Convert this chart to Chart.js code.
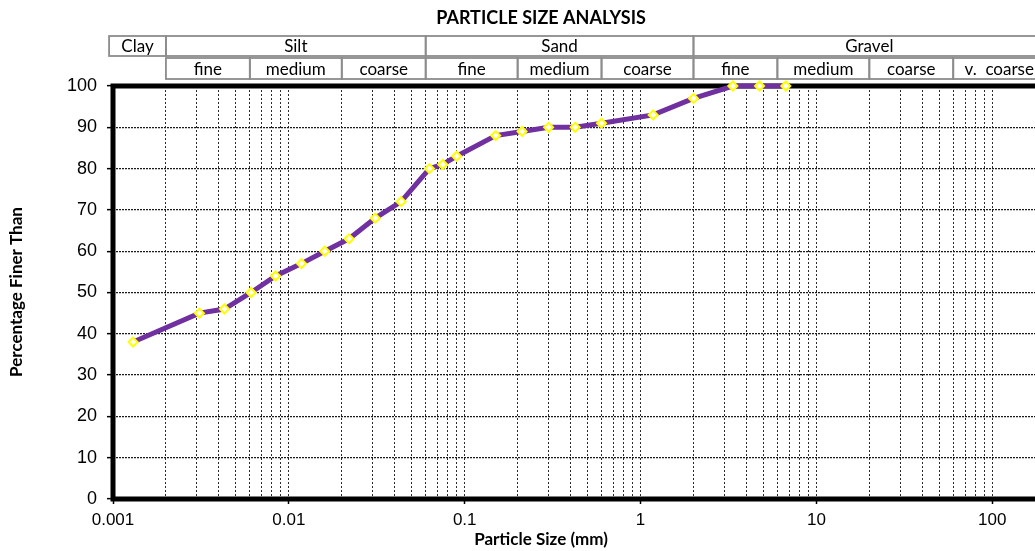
<!DOCTYPE html>
<html>
<head>
<meta charset="utf-8">
<title>Particle Size Analysis</title>
<script src="https://cdn.jsdelivr.net/npm/chart.js@4/dist/chart.umd.min.js"></script>
<style>
  html, body { margin: 0; padding: 0; background: #fff; overflow: hidden; }
  canvas { display: block; }
</style>
</head>
<body>
<canvas id="psd" width="1193" height="551"></canvas>
<script>
// grading results: hydrometer below 0.063 mm, sieves above
const sizes = [0.0013, 0.0031, 0.0043, 0.0061, 0.0084, 0.0118, 0.016, 0.022, 0.031, 0.0435,
               0.063, 0.075, 0.09, 0.15, 0.212, 0.3, 0.425, 0.6, 1.18, 2.0, 3.35, 4.75, 6.7];
const percentFiner = [38, 45, 46, 50, 54, 57, 60, 63, 68, 72,
                      80, 81, 83, 88, 89, 90, 90, 91, 93, 97, 100, 100, 100];

const xMajor = [0.001, 0.01, 0.1, 1, 10, 100, 1000];
const xTickLabels = ["0.001", "0.01", "0.1", "1", "10", "100", "1000"];
const yTicks = [0, 10, 20, 30, 40, 50, 60, 70, 80, 90, 100];

// soil classification bands (mm)
const mainClasses = ["Clay", "Silt", "Sand", "Gravel"];
const mainBounds = [0.00095, 0.002, 0.06, 2, 200];
const subClasses = ["fine", "medium", "coarse", "fine", "medium", "coarse", "fine", "medium", "coarse", "v.  coarse"];
const subBounds = [0.002, 0.006, 0.02, 0.06, 0.2, 0.6, 2, 6, 20, 60, 200];

// 1..9 in every decade -> vertical grid lines
const xGrid = [];
for (let k = 0; k < xMajor.length - 1; k++) {
    for (let m = 1; m <= 9; m++) xGrid.push(xMajor[k] * m);
}
xGrid.push(xMajor[xMajor.length - 1]);

const isMajor = v => xMajor.indexOf(v) >= 0;

const frame = {
    id: "frame",
    beforeDatasetsDraw(chart) {
        const { ctx, chartArea: a } = chart;
        ctx.save();
        ctx.strokeStyle = "#000";
        ctx.lineWidth = 5;
        ctx.beginPath();
        ctx.moveTo(chart.width, a.top);
        ctx.lineTo(a.left, a.top);
        ctx.lineTo(a.left, a.bottom);
        ctx.lineTo(chart.width, a.bottom);
        ctx.stroke();
        ctx.restore();
    },
    afterDraw(chart) {
        const { ctx } = chart;
        const x = chart.scales.x;
        ctx.save();

        // title
        ctx.fillStyle = "#000";
        ctx.textAlign = "center";
        ctx.textBaseline = "middle";
        ctx.font = "bold 18px Lato";
        ctx.fillText("PARTICLE SIZE ANALYSIS", 541, 18);

        // axis titles
        ctx.font = "bold 17px Lato";
        ctx.fillText("Particle Size (mm)", 541, 540);
        ctx.save();
        ctx.translate(17, 292);
        ctx.rotate(-Math.PI / 2);
        ctx.fillText("Percentage Finer Than", 0, 0);
        ctx.restore();

        // classification table above the plot
        ctx.strokeStyle = "#8c8c8c";
        ctx.lineWidth = 1.8;
        ctx.font = "17px Lato";
        const row1 = [36, 56], row2 = [58, 79];
        for (let i = 0; i < mainClasses.length; i++) {
            const x0 = x.getPixelForValue(mainBounds[i]);
            const x1 = x.getPixelForValue(mainBounds[i + 1]);
            ctx.strokeRect(x0, row1[0], x1 - x0, row1[1] - row1[0]);
            ctx.fillText(mainClasses[i], (x0 + x1) / 2, (row1[0] + row1[1]) / 2 + 1);
        }
        for (let i = 0; i < subClasses.length; i++) {
            const x0 = x.getPixelForValue(subBounds[i]);
            const x1 = x.getPixelForValue(subBounds[i + 1]);
            ctx.strokeRect(x0, row2[0], x1 - x0, row2[1] - row2[0]);
            ctx.fillText(subClasses[i], (x0 + x1) / 2, (row2[0] + row2[1]) / 2 + 1);
        }
        ctx.restore();
    }
};

new Chart(document.getElementById("psd"), {
    type: "scatter",
    data: {
        datasets: [{
            data: sizes.map((s, i) => ({ x: s, y: percentFiner[i] })),
            showLine: true,
            borderColor: "#7030A0",
            borderWidth: 5,
            pointStyle: "rectRot",
            pointRadius: 4.5,
            pointBorderWidth: 2,
            pointBorderColor: "#FFFF00",
            pointBackgroundColor: "#FFFFFF",
            clip: false
        }]
    },
    options: {
        responsive: false,
        animation: false,
        events: [],
        layout: { padding: { top: 86, right: 11, left: 0, bottom: 0 } },
        plugins: {
            legend: { display: false },
            tooltip: { enabled: false }
        },
        scales: {
            x: {
                type: "logarithmic",
                min: 0.001,
                max: 1000,
                afterBuildTicks: s => { s.ticks = xGrid.map(v => ({ value: v })); },
                afterFit: s => { s.height = 52; },
                ticks: {
                    autoSkip: false,
                    maxRotation: 0,
                    padding: 6,
                    color: "#000",
                    font: { family: "Liberation Sans", size: 17 },
                    callback: v => isMajor(v) ? xTickLabels[xMajor.indexOf(v)] : ""
                },
                grid: {
                    color: "#2a2a2a",
                    lineWidth: 1,
                    tickLength: 5,
                    tickWidth: 1.5,
                    tickColor: c => isMajor(c.tick.value) ? "#000" : "rgba(0,0,0,0)"
                },
                border: { display: false, dash: [2, 2] }
            },
            y: {
                min: 0,
                max: 100,
                afterBuildTicks: s => { s.ticks = yTicks.map(v => ({ value: v })); },
                afterFit: s => { s.width = 113; },
                ticks: {
                    padding: 10,
                    color: "#000",
                    font: { family: "Liberation Sans", size: 18 }
                },
                grid: {
                    color: "#1a1a1a",
                    lineWidth: 1.3,
                    tickLength: 6,
                    tickColor: "#000",
                    tickWidth: 1.5
                },
                border: { display: false, dash: [2, 1] }
            }
        }
    },
    plugins: [frame]
});
</script>
</body>
</html>
